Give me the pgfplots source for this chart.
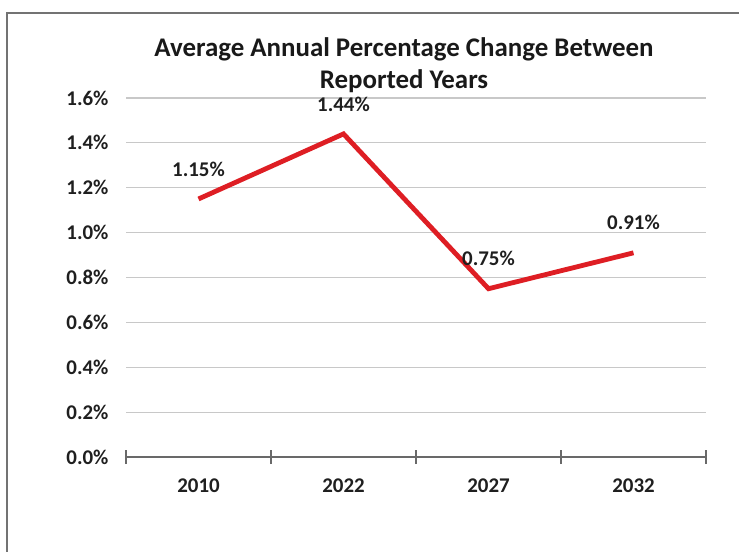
\documentclass[border=0pt]{standalone}
\usepackage{fontspec}
\setmainfont{Carlito}
\usepackage{pgfplots}
\pgfplotsset{compat=1.18}
\definecolor{linered}{RGB}{222,30,36}
\definecolor{gridgray}{RGB}{200,200,200}
\definecolor{axisgray}{RGB}{105,105,105}
\begin{document}
\begin{tikzpicture}
\useasboundingbox (0,0) rectangle (739bp,552bp);
\draw[line width=1.6bp, black!55] (7bp,0) -- (7bp,539bp) -- (739bp,539bp);
\node[align=center, font=\bfseries\fontsize{27}{32}\selectfont, text=black!90] at (404bp,487bp) {Average Annual Percentage Change Between\\Reported Years};
\begin{axis}[
  at={(126bp,95bp)}, anchor=south west,
  scale only axis, width=580bp, height=359bp,
  xmin=0, xmax=4, ymin=0, ymax=1.6,
  axis x line*=bottom, axis y line*=left,
  y axis line style={draw=none},
  x axis line style={axisgray, line width=1.5bp, -},
  xtick={0,1,2,3,4}, xticklabels={2010,2022,2027,2032,}, x tick label as interval,
  xtick align=center, major tick length=14bp,
  x tick style={axisgray, line width=1.5bp},
  ytick={0,0.2,0.4,0.6,0.8,1.0,1.2,1.4,1.6},
  yticklabels={0.0\%,0.2\%,0.4\%,0.6\%,0.8\%,1.0\%,1.2\%,1.4\%,1.6\%},
  y tick style={draw=none},
  ymajorgrids, grid style={gridgray, line width=1.2bp},
  tick label style={font=\bfseries\fontsize{21}{24}\selectfont, text=black!88},
  yticklabel style={anchor=east, xshift=-14bp},
  xticklabel style={yshift=-11bp},
  clip=false,
  nodes near coords,
  point meta=explicit symbolic,
  every node near coord/.append style={font=\bfseries\fontsize{21}{24}\selectfont, text=black!88, anchor=south, yshift=17bp},
]
\addplot[linered, line width=4.8bp, mark=none] coordinates {
  (0.5,1.15) [1.15\%]
  (1.5,1.44) [1.44\%]
  (2.5,0.75) [0.75\%]
  (3.5,0.91) [0.91\%]
};
\end{axis}
\end{tikzpicture}
\end{document}
